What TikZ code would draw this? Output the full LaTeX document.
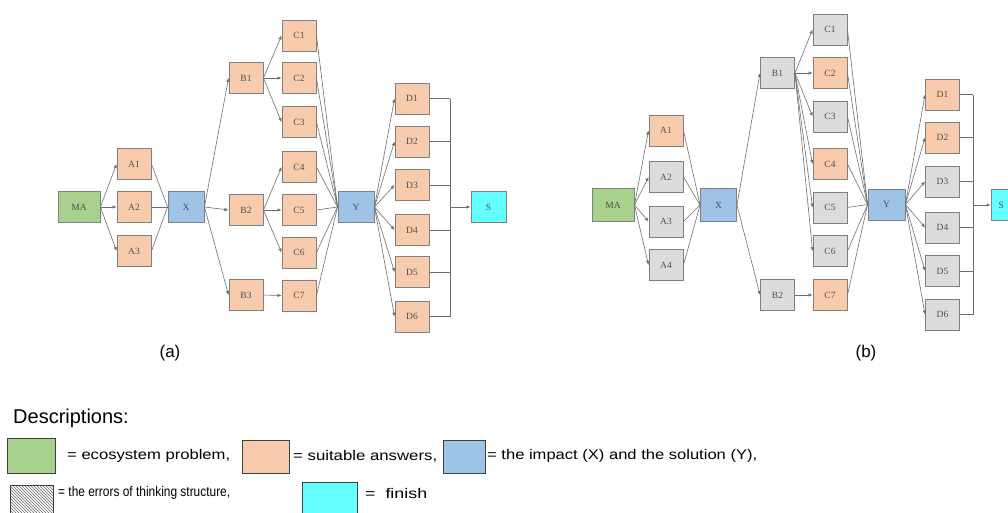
\documentclass[tikz,border=0pt]{standalone}
\usepackage{fontspec}
\setmainfont{Liberation Sans}
\newfontfamily\nodefont{Liberation Serif}
\usetikzlibrary{arrows.meta,patterns}
\definecolor{cgreen}{HTML}{A9D18E}
\definecolor{corange}{HTML}{F8CBAD}
\definecolor{cblue}{HTML}{9DC3E6}
\definecolor{ccyan}{HTML}{66FFFF}
\definecolor{cgrey}{HTML}{DCDCDC}
\definecolor{cborder}{HTML}{808080}
\definecolor{cline}{HTML}{6E6E6E}
\definecolor{ctext}{HTML}{505050}
\newcommand{\legtext}[2]{\resizebox{#1}{\height}{#2}}
\tikzset{
  box/.style={draw=cborder,line width=0.9pt,minimum width=34pt,minimum height=31pt,inner sep=0pt,font=\nodefont\fontsize{9.5}{10}\selectfont,text=ctext},
  gbox/.style={box,fill=cgreen,minimum width=42pt},
  obox/.style={box,fill=corange},
  bbox/.style={box,fill=cblue,minimum width=36pt},
  ybox/.style={box,fill=cgrey},
  cbox/.style={box,fill=ccyan,minimum width=35pt},
  arr/.style={draw=cline,line width=0.6pt,-{Latex[length=4pt,width=3.5pt]}},
  ln/.style={draw=cline,line width=0.6pt},
  legbox/.style={draw=black!75,line width=0.9pt,inner sep=0pt},
  legtxt/.style={anchor=west,inner sep=0pt,font=\fontsize{14}{16}\selectfont},
}
\begin{document}
\begin{tikzpicture}[x=1pt,y=-1pt]
\useasboundingbox (0,0) rectangle (1008,512);
\clip (0,0) rectangle (1008,512);
% ---------- panel (a)
\node[gbox] (aMA) at (79,207) {MA};
\node[obox] (aA1) at (134,164) {A1};
\node[obox] (aA2) at (134,207) {A2};
\node[obox] (aA3) at (134,251) {A3};
\node[bbox] (aX) at (186,207) {X};
\node[obox] (aB1) at (246,78) {B1};
\node[obox] (aB2) at (246,210) {B2};
\node[obox] (aB3) at (246,295) {B3};
\foreach \n/\y in {1/35.5,2/78,3/122,4/167,5/210,6/252.5,7/295.5}
  \node[obox] (aC\n) at (299,\y) {C\n};
\node[bbox] (aY) at (356,207) {Y};
\foreach \n/\y in {1/98.5,2/141.5,3/185,4/230,5/272,6/316.5}
  \node[obox] (aD\n) at (412,\y) {D\n};
\node[cbox] (aS) at (488.5,207) {S};
\coordinate (aBusT) at (450,98.5);
\coordinate (aBusB) at (450,316.5);
\coordinate (aBusM) at (450,207);
\foreach \n in {1,2,3} {\draw[arr] (aMA.east) -- (aA\n.west); \draw[ln] (aA\n.east) -- (aX.west);}
\foreach \n in {1,2,3} \draw[arr] (aX.east) -- (aB\n.west);
\foreach \n in {1,2,3} \draw[arr] (aB1.east) -- (aC\n.west);
\foreach \n in {4,5,6} \draw[arr] (aB2.east) -- (aC\n.west);
\draw[arr] (aB3.east) -- (aC7.west);
\foreach \n in {1,...,7} \draw[ln] (aC\n.east) -- (aY.west);
\foreach \n in {1,...,6} {\draw[arr] (aY.east) -- (aD\n.west); \draw[ln] (aD\n.east) -- (aD\n.east -| aBusM);}
\draw[ln] (aBusT) -- (aBusB);
\draw[arr] (aBusM) -- (aS.west);
\node (alab) at (170,353) {\fontsize{17}{19}\selectfont (a)};
% ---------- panel (b)
\node[gbox,minimum height=33pt] (bMA) at (613,205) {MA};
\node[obox] (bA1) at (666,130.5) {A1};
\node[ybox] (bA2) at (666,177) {A2};
\node[ybox] (bA3) at (666,221.5) {A3};
\node[ybox] (bA4) at (666,265) {A4};
\node[bbox,minimum height=33pt] (bX) at (718.5,205) {X};
\node[ybox] (bB1) at (777.5,73) {B1};
\node[ybox] (bB2) at (777.5,295) {B2};
\foreach \n/\y/\s in {1/29.5/ybox,2/73/obox,3/116.5/ybox,4/164/obox,5/207.5/ybox,6/251/ybox,7/295/obox}
  \node[\s] (bC\n) at (830,\y) {C\n};
\node[bbox,minimum width=37pt] (bY) at (886.5,204.5) {Y};
\foreach \n/\y/\s in {1/94.5/obox,2/137.5/obox,3/181.5/ybox,4/227.5/ybox,5/271/ybox,6/314.5/ybox}
  \node[\s] (bD\n) at (942.5,\y) {D\n};
\node[cbox,text width=20pt,align=left] (bS) at (1008.5,205) {S};
\coordinate (bBusT) at (973,94.5);
\coordinate (bBusB) at (973,314.5);
\coordinate (bBusM) at (973,205);
\foreach \n in {1,...,4} {\draw[arr] (bMA.east) -- (bA\n.west); \draw[ln] (bA\n.east) -- (bX.west);}
\foreach \n in {1,2} \draw[arr] (bX.east) -- (bB\n.west);
\foreach \n in {1,...,6} \draw[arr] (bB1.east) -- (bC\n.west);
\draw[arr] (bB2.east) -- (bC7.west);
\foreach \n in {1,...,7} \draw[ln] (bC\n.east) -- (bY.west);
\foreach \n in {1,...,6} {\draw[arr] (bY.east) -- (bD\n.west); \draw[ln] (bD\n.east) -- (bD\n.east -| bBusM);}
\draw[ln] (bBusT) -- (bBusB);
\draw[arr] (bBusM) -- (bS.west);
\node (blab) at (866,353) {\fontsize{17}{19}\selectfont (b)};
% ---------- legend
\node[anchor=west,inner sep=0pt] (desc) at (13,418) {\fontsize{20}{22}\selectfont Descriptions:};
\node[legbox,fill=cgreen,minimum width=48pt,minimum height=35pt] (lg1) at (31,455.5) {};
\node[legtxt] (lt1) at (67,456) {\legtext{163pt}{= ecosystem problem,}};
\node[legbox,fill=corange,minimum width=47pt,minimum height=33pt] (lg2) at (265.5,456.5) {};
\node[legtxt] (lt2) at (293,456) {\legtext{144pt}{= suitable answers,}};
\node[legbox,fill=cblue,minimum width=42pt,minimum height=33pt] (lg3) at (464,456.5) {};
\node[legtxt] (lt3) at (487,456) {\legtext{270pt}{= the impact (X) and the solution (Y),}};
\node[legbox,pattern=north west lines,pattern color=black!60,minimum width=43pt,minimum height=33pt] (lg4) at (31.5,501.5) {};
\node[legtxt] (lt4) at (58,493) {\legtext{172pt}{= the errors of thinking structure,}};
\node[legbox,fill=ccyan,minimum width=55pt,minimum height=33pt] (lg5) at (329.5,498.5) {};
\node[legtxt] (lt5) at (365,493) {\legtext{62pt}{=\ \ finish}};
\end{tikzpicture}
\end{document}
